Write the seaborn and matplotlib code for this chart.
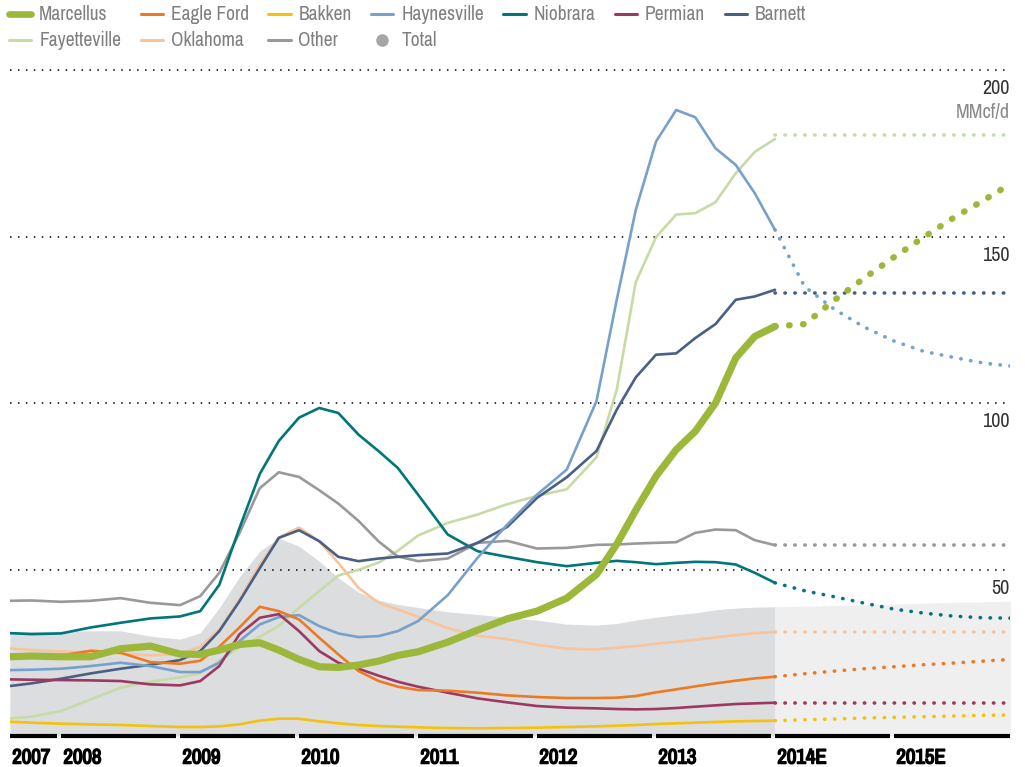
import matplotlib
matplotlib.use("Agg")
import matplotlib.pyplot as plt
from matplotlib import font_manager as fm
from matplotlib import patheffects as pe
from matplotlib.lines import Line2D
import seaborn as sns

# monthly-ish sample dates (fractional years), history and forecast
dates = [2007.57, 2007.75, 2008.0, 2008.25, 2008.5, 2008.75, 2009.0, 2009.17, 2009.33, 2009.5,
         2009.67, 2009.83, 2010.0, 2010.17, 2010.33, 2010.5, 2010.67, 2010.83, 2011.0, 2011.25,
         2011.5, 2011.75, 2012.0, 2012.25, 2012.5, 2012.67, 2012.83, 2013.0, 2013.17, 2013.33,
         2013.5, 2013.67, 2013.83, 2014.0]
fc_dates = [2014.0, 2014.25, 2014.5, 2014.75, 2015.0, 2015.25, 2015.5, 2015.75, 2015.98]

marcellus = [23.8, 24.0, 23.8, 23.8, 26.2, 27.0, 24.6, 24.5, 25.8, 27.5, 28.0, 25.8, 23.0, 20.8,
             20.6, 21.3, 22.5, 24.2, 25.3, 28.2, 31.8, 35.2, 37.5, 41.4, 48.5, 57.6, 67.8, 78.0,
             86.0, 91.5, 100.0, 113.5, 120.0, 123.0]
marcellus_fc = [123.0, 123.7, 130.9, 137.5, 143.8, 149.8, 155.6, 160.8, 165.8]

eagle_ford = [24.5, 24.0, 24.2, 25.6, 25.0, 22.2, 21.7, 22.6, 26.8, 32.6, 38.8, 37.5, 35.0, 29.5,
              24.5, 19.5, 16.5, 14.8, 13.8, 13.6, 13.0, 12.2, 11.7, 11.4, 11.4, 11.5, 12.0, 13.1,
              14.0, 14.9, 15.8, 16.6, 17.3, 17.8]
eagle_ford_fc = [17.8, 18.7, 19.5, 20.2, 20.8, 21.4, 21.9, 22.5, 23.0]

bakken = [4.3, 4.0, 3.7, 3.5, 3.3, 3.0, 2.7, 2.7, 2.9, 3.5, 4.6, 5.2, 5.2, 4.4, 3.8, 3.3, 3.0,
          2.8, 2.6, 2.4, 2.3, 2.4, 2.5, 2.7, 2.9, 3.1, 3.3, 3.6, 3.8, 4.0, 4.2, 4.4, 4.5, 4.6]
bakken_fc = [4.6, 4.9, 5.1, 5.4, 5.6, 5.8, 6.0, 6.2, 6.3]

haynesville = [19.8, 19.9, 20.2, 21.0, 22.0, 21.0, 19.2, 19.2, 22.0, 28.5, 33.5, 35.7, 36.3, 33.0,
               30.8, 29.7, 30.0, 31.5, 34.5, 42.3, 53.5, 63.5, 72.5, 80.0, 100.6, 131.0, 158.0,
               178.5, 188.0, 185.8, 176.5, 171.5, 163.0, 152.0]
haynesville_fc = [152.0, 134.9, 128.1, 122.8, 118.6, 115.5, 113.7, 112.0, 111.1]

niobrara = [30.9, 30.6, 30.8, 32.6, 34.0, 35.3, 35.9, 37.5, 45.4, 62.5, 78.7, 88.6, 95.6, 98.5,
            97.0, 90.5, 85.5, 80.5, 72.5, 60.5, 55.5, 53.8, 52.2, 51.0, 52.0, 52.6, 52.2, 51.6,
            52.0, 52.3, 52.2, 51.5, 49.0, 46.0]
niobrara_fc = [46.0, 43.6, 41.8, 39.9, 38.1, 36.9, 36.0, 35.5, 35.4]

permian = [17.0, 16.9, 16.8, 16.7, 16.5, 15.5, 15.2, 16.5, 21.0, 30.6, 35.5, 36.6, 31.5, 25.5,
           22.0, 20.2, 18.1, 16.3, 14.8, 13.0, 11.3, 10.1, 9.0, 8.5, 8.3, 8.1, 8.0, 8.1, 8.4,
           8.8, 9.2, 9.6, 9.8, 10.0]
permian_fc = [10.0, 10.0, 10.0, 10.0, 10.0, 10.0, 10.0, 10.0, 10.0]

barnett = [15.0, 15.8, 17.2, 18.8, 20.2, 21.4, 22.8, 25.5, 31.5, 40.5, 50.4, 59.5, 61.8, 58.5,
           53.8, 52.5, 53.3, 53.8, 54.3, 54.8, 58.0, 62.8, 71.5, 77.7, 85.6, 98.0, 107.7, 114.5,
           114.9, 119.5, 123.7, 131.0, 132.0, 134.0]
barnett_fc = [133.0, 133.0, 133.0, 133.0, 133.0, 133.0, 133.0, 133.0, 133.0]

fayetteville = [5.3, 5.8, 7.5, 11.0, 14.5, 16.3, 17.6, 18.9, 22.5, 26.6, 29.8, 33.0, 38.5, 43.5,
                48.2, 49.9, 52.1, 55.6, 60.2, 64.0, 66.5, 69.6, 72.1, 74.1, 83.7, 104.0, 136.3,
                149.8, 156.6, 157.0, 160.3, 169.0, 175.4, 179.3]
fayetteville_fc = [180.5, 180.5, 180.5, 180.5, 180.5, 180.5, 180.5, 180.5, 180.5]

oklahoma = [26.3, 25.8, 25.4, 25.0, 24.8, 24.2, 24.6, 26.8, 32.0, 41.0, 51.4, 59.6, 62.6, 58.5,
            52.0, 44.5, 40.0, 38.0, 35.8, 32.4, 30.1, 29.1, 27.4, 26.2, 26.0, 26.5, 27.0, 27.7,
            28.3, 28.9, 29.6, 30.3, 30.9, 31.2]
oklahoma_fc = [31.3, 31.3, 31.3, 31.3, 31.3, 31.3, 31.3, 31.3, 31.3]

other = [40.6, 40.7, 40.3, 40.6, 41.4, 40.0, 39.3, 42.0, 49.0, 61.0, 74.4, 79.2, 77.8, 73.8,
         69.8, 64.6, 58.4, 53.9, 52.5, 53.3, 58.0, 58.6, 56.3, 56.5, 57.4, 57.5, 57.8, 58.0,
         58.2, 61.0, 62.0, 61.8, 58.8, 57.3]
other_fc = [57.3, 57.3, 57.3, 57.3, 57.3, 57.3, 57.3, 57.3, 57.3]

total = [31.3, 31.4, 31.5, 31.6, 31.6, 30.0, 29.1, 31.0, 38.5, 47.8, 55.5, 59.4, 57.0, 52.5,
         47.5, 43.2, 40.8, 39.5, 38.6, 37.3, 36.5, 35.6, 34.8, 33.6, 33.3, 33.8, 34.8, 35.7,
         36.4, 37.0, 37.9, 38.4, 38.7, 38.8]
total_fc = [38.8, 39.0, 39.2, 39.4, 39.6, 39.9, 40.1, 40.3, 40.5]

year_labels = ["2007", "2008", "2009", "2010", "2011", "2012", "2013", "2014E", "2015E"]
year_starts = [2007.57, 2008, 2009, 2010, 2011, 2012, 2013, 2014, 2015]
y_ticks = [50, 100, 150, 200]

colors = {
    "Marcellus": "#9cb83a", "Eagle Ford": "#ec7a23", "Bakken": "#f4c20d",
    "Haynesville": "#77a1cb", "Niobrara": "#00767a", "Permian": "#9c3862",
    "Barnett": "#4a5f85", "Fayetteville": "#c6dba5", "Oklahoma": "#f8c49c",
    "Other": "#99999b",
}

sns.set_style("white")

# look for a narrow face, the original uses a condensed grotesque
names = {f.name for f in fm.fontManager.ttflist}
cond = sorted(n for n in names if "Condensed" in n or "Narrow" in n)
scale = 1.0
if cond:
    base_font = cond[0]
elif any(f.name == "DejaVu Sans" and f.stretch == "condensed" for f in fm.fontManager.ttflist):
    base_font = "DejaVu Sans"
    plt.rcParams["font.stretch"] = "condensed"
else:
    base_font = "Roboto"
    scale = 0.82
plt.rcParams["font.family"] = [base_font, "DejaVu Sans"]

fig = plt.figure(figsize=(10.25, 7.67), dpi=100)
ax = fig.add_axes([10 / 1025, 31 / 767, 1000 / 1025, 699.3 / 767])
x0, x1 = 2007.571, 2015.975
ax.set_xlim(x0, x1)
ax.set_ylim(0, 210)
ax.axis("off")

# total as shaded area
ax.fill_between(dates, 0, total, color="#dcdddf", lw=0, zorder=0)
ax.fill_between(fc_dates, 0, total_fc, color="#efefef", lw=0, zorder=0)

for v in y_ticks:
    ax.axhline(v, color="black", lw=1.1, linestyle=(0, (1, 4.2)), zorder=1)
    ax.annotate(str(v), xy=(1, v), xycoords=("axes fraction", "data"), xytext=(0, -6.5),
                textcoords="offset points", ha="right", va="top",
                fontsize=14.5 * scale, color="#333333")
ax.annotate("MMcf/d", xy=(1, 200), xycoords=("axes fraction", "data"), xytext=(0, -24),
            textcoords="offset points", ha="right", va="top",
            fontsize=14.5 * scale, color="#8a8a8a")

series = [
    ("Fayetteville", fayetteville, fayetteville_fc),
    ("Oklahoma", oklahoma, oklahoma_fc),
    ("Other", other, other_fc),
    ("Niobrara", niobrara, niobrara_fc),
    ("Barnett", barnett, barnett_fc),
    ("Haynesville", haynesville, haynesville_fc),
    ("Permian", permian, permian_fc),
    ("Eagle Ford", eagle_ford, eagle_ford_fc),
    ("Bakken", bakken, bakken_fc),
    ("Marcellus", marcellus, marcellus_fc),
]

for name, hist, fc in series:
    c = colors[name]
    big = name == "Marcellus"
    sns.lineplot(x=dates, y=hist, ax=ax, color=c, lw=5.2 if big else 1.9, sort=False,
                 legend=False, solid_capstyle="round", solid_joinstyle="round", zorder=3)
    if big:
        sns.lineplot(x=fc_dates, y=fc, ax=ax, color=c, lw=4.6, sort=False, legend=False,
                     linestyle=(0, (0.1, 2.1)), dash_capstyle="round", zorder=3)
    else:
        sns.lineplot(x=fc_dates, y=fc, ax=ax, color=c, lw=2.6, sort=False, legend=False,
                     linestyle=(0, (0.1, 2.65)), dash_capstyle="round", zorder=3)

# year bars along the bottom, labels thickened with a stroke
bold = [pe.withStroke(linewidth=1.1, foreground="black")]
bounds = year_starts + [x1]
for i, lab in enumerate(year_labels):
    end = bounds[i + 1] - 0.03 if i < len(year_labels) - 1 else bounds[i + 1]
    ax.plot([bounds[i], end], [0, 0], color="black", lw=3, solid_capstyle="butt",
            clip_on=False, zorder=4)
    ax.annotate(lab, xy=(bounds[i] + 0.02, 0), xycoords="data", xytext=(0, -9),
                textcoords="offset points", ha="left", va="top", fontsize=15 * scale,
                fontweight="bold", color="black", path_effects=bold)

# legend, column-major order so rows read like the original
order = ["Marcellus", "Fayetteville", "Eagle Ford", "Oklahoma", "Bakken", "Other",
         "Haynesville", "Total", "Niobrara", "Permian", "Barnett"]
handles = []
for n in order:
    if n == "Total":
        handles.append(Line2D([], [], marker="o", linestyle="none", color="#a6a6a8",
                              markersize=8))
    elif n == "Marcellus":
        handles.append(Line2D([], [], color=colors[n], lw=4.8, solid_capstyle="round"))
    else:
        handles.append(Line2D([], [], color=colors[n], lw=2.2))
fig.legend(handles, order, loc="upper left", bbox_to_anchor=(9 / 1025, 0.993), ncol=7,
           frameon=False, fontsize=14 * scale, handlelength=1.15, handletextpad=0.4,
           columnspacing=1.0, labelspacing=0.36, borderpad=0, borderaxespad=0,
           labelcolor="#808080")

fig.savefig("out.png", dpi=100)
